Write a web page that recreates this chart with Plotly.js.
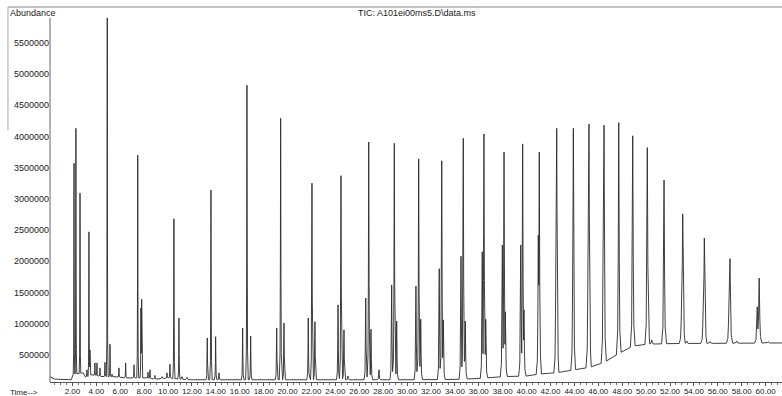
<!DOCTYPE html>
<html>
<head>
<meta charset="utf-8">
<script src="https://cdn.plot.ly/plotly-3.0.1.min.js"></script>
<style>html,body{margin:0;padding:0;background:#fff;}#chart{width:782px;height:396px;}</style>
</head>
<body>
<div id="chart"></div>
<script>
// Baseline (time in min, abundance)
const baseTime  = [0.12, 0.5, 1.9, 2.05, 2.9, 3.1, 3.6, 4.5, 5.5, 6.5, 8, 9, 10, 11, 12, 14, 18, 26, 30, 34, 36, 38, 40, 41, 42.6, 44, 45.3, 46.5, 47.8, 48.9, 50.1, 52, 61.4];
const baseLevel = [150000, 110000, 100000, 190000, 210000, 140000, 180000, 150000, 150000, 130000, 130000, 110000, 130000, 110000, 100000, 100000, 100000, 100000, 100000, 105000, 120000, 150000, 160000, 190000, 215000, 260000, 300000, 380000, 530000, 640000, 670000, 680000, 690000];

// Peak apexes (retention time in min, abundance)
const peakTime = [
  2.13, 2.29, 2.63, 3.21, 3.38, 3.46, 3.88, 4.05, 4.30, 4.72,
  4.91, 5.14, 5.31, 5.89, 6.45, 7.15, 7.46, 7.73, 7.79, 8.32,
  8.49, 8.90, 9.49, 9.91, 10.16, 10.49, 10.91, 11.16, 11.58, 13.28,
  13.59, 13.98, 14.26, 16.24, 16.60, 16.91, 19.09, 19.42, 19.70, 21.73,
  22.04, 22.29, 24.22, 24.47, 24.72, 25.05, 26.54, 26.79, 26.98, 27.65,
  28.71, 28.93, 29.13, 30.74, 30.97, 31.14, 32.69, 32.90, 33.03, 34.51,
  34.70, 34.87, 36.29, 36.43, 36.58, 37.97, 38.11, 38.22, 39.51, 39.67,
  39.78, 40.98, 41.06, 42.46, 42.52, 43.88, 43.91, 45.16, 45.22, 46.43,
  46.48, 47.71, 48.88, 50.10, 50.47, 51.50, 52.98, 53.06, 53.40, 54.79,
  54.87, 55.35, 56.94, 57.02, 57.58, 59.30, 59.46, 60.20
];
const peakHeight = [
  3570000, 4130000, 3090000, 260000, 2470000, 580000, 370000, 370000, 290000, 380000,
  5900000, 670000, 190000, 290000, 370000, 340000, 3700000, 1250000, 1390000, 220000,
  260000, 170000, 150000, 210000, 350000, 2680000, 1090000, 150000, 140000, 770000,
  3140000, 790000, 210000, 930000, 4820000, 800000, 930000, 4290000, 1010000, 1090000,
  3250000, 1030000, 1300000, 3370000, 900000, 160000, 1410000, 3910000, 910000, 260000,
  1620000, 3890000, 1040000, 1600000, 3640000, 1070000, 1880000, 3610000, 1060000, 2080000,
  3970000, 1040000, 2150000, 4040000, 1070000, 2260000, 3750000, 1190000, 2260000, 3880000,
  1220000, 2420000, 3750000, 2580000, 4130000, 2660000, 4130000, 3300000, 4200000, 3990000,
  4180000, 4220000, 4010000, 3820000, 740000, 3300000, 1540000, 2760000, 720000, 1400000,
  2370000, 710000, 1430000, 2040000, 720000, 1270000, 1730000, 710000
];

const xTickVals = [2,4,6,8,10,12,14,16,18,20,22,24,26,28,30,32,34,36,38,40,42,44,46,48,50,52,54,56,58,60];
const yTickVals = [500000,1000000,1500000,2000000,2500000,3000000,3500000,4000000,4500000,5000000,5500000];

function baseAt(t) {
  if (t <= baseTime[0]) return baseLevel[0];
  for (let i = 1; i < baseTime.length; i++) {
    if (t <= baseTime[i]) {
      const f = (t - baseTime[i-1]) / (baseTime[i] - baseTime[i-1]);
      return baseLevel[i-1] + f * (baseLevel[i] - baseLevel[i-1]);
    }
  }
  return baseLevel[baseLevel.length - 1];
}
// drawing style of a peak: narrow tip with a small skirt
function halfW(t) { return 0.028 + 0.0013 * t; }
const profD = [0, 0.5, 1, 2.2];
const profV = [1, 0.4, 0.1, 0];
function prof(r) {
  if (r >= profD[profD.length - 1]) return 0;
  for (let i = 1; i < profD.length; i++) {
    if (r <= profD[i]) {
      const f = (r - profD[i-1]) / (profD[i] - profD[i-1]);
      return profV[i-1] + f * (profV[i] - profV[i-1]);
    }
  }
  return 0;
}

let samples = baseTime.slice();
peakTime.forEach(t => { const w = halfW(t); profD.forEach(d => { samples.push(t - d * w, t + d * w); }); });
samples.sort((a, b) => a - b);
samples = samples.filter((v, i) => i === 0 || v - samples[i-1] > 1e-6);

const xs = [], ys = [];
samples.forEach(x => {
  const b = baseAt(x);
  let add = 0;
  for (let p = 0; p < peakTime.length; p++) {
    const w = halfW(peakTime[p]);
    const r = Math.abs(x - peakTime[p]) / w;
    const v = (peakHeight[p] - baseAt(peakTime[p])) * prof(r);
    if (v > add) add = v;
  }
  xs.push(x); ys.push(b + add);
});

const font = 'Liberation Sans, Arial, sans-serif';
const trace = {
  x: xs, y: ys, type: 'scatter', mode: 'lines',
  line: {color: '#2a2a2a', width: 0.9},
  hoverinfo: 'skip', showlegend: false
};

const layout = {
  width: 782, height: 396,
  margin: {l: 50, r: 0, t: 10, b: 14},
  paper_bgcolor: '#ffffff', plot_bgcolor: '#ffffff',
  font: {family: font, color: '#222'},
  xaxis: {
    range: [0.12, 61.37],
    tickvals: xTickVals, ticktext: xTickVals.map(v => v.toFixed(2)),
    ticks: 'outside', ticklen: 3, tickcolor: '#555', tickwidth: 1,
    ticklabelstandoff: -2,
    minor: {dtick: 0.5, tick0: 0, ticks: 'outside', ticklen: 2, tickcolor: '#777'},
    showline: true, linecolor: '#555', linewidth: 1,
    showgrid: false, zeroline: false,
    tickfont: {family: font, size: 8, color: '#222'}
  },
  yaxis: {
    range: [64000, 6026000],
    tickvals: yTickVals, ticktext: yTickVals.map(v => String(v)),
    ticks: '', showline: false, showgrid: false, zeroline: false,
    tickfont: {family: font, size: 9, color: '#222'}
  },
  shapes: [
    {type: 'line', xref: 'paper', yref: 'paper', x0: 0, x1: 0, y0: 0, y1: 0.9785, line: {color: '#666', width: 1}},
    {type: 'line', xref: 'paper', yref: 'paper', x0: -0.0574, x1: 1, y0: 1.008, y1: 1.008, line: {color: '#888', width: 1}},
    {type: 'line', xref: 'paper', yref: 'paper', x0: -0.0574, x1: -0.0574, y0: 0.677, y1: 1.008, line: {color: '#aaa', width: 1}}
  ],
  annotations: [
    {text: 'TIC: A101ei00ms5.D\\data.ms', xref: 'paper', yref: 'paper', x: 0.5014, y: 0.992, xanchor: 'center', yanchor: 'middle', showarrow: false, font: {family: font, size: 9, color: '#222'}},
    {text: 'Abundance', xref: 'paper', yref: 'paper', x: -0.058, y: 0.992, xanchor: 'left', yanchor: 'middle', showarrow: false, font: {family: font, size: 9, color: '#222'}},
    {text: 'Time-->', xref: 'paper', yref: 'paper', x: -0.058, y: -0.027, xanchor: 'left', yanchor: 'middle', showarrow: false, font: {family: font, size: 8, color: '#222'}}
  ]
};

Plotly.newPlot('chart', [trace], layout, {displayModeBar: false, staticPlot: true});
</script>
</body>
</html>
